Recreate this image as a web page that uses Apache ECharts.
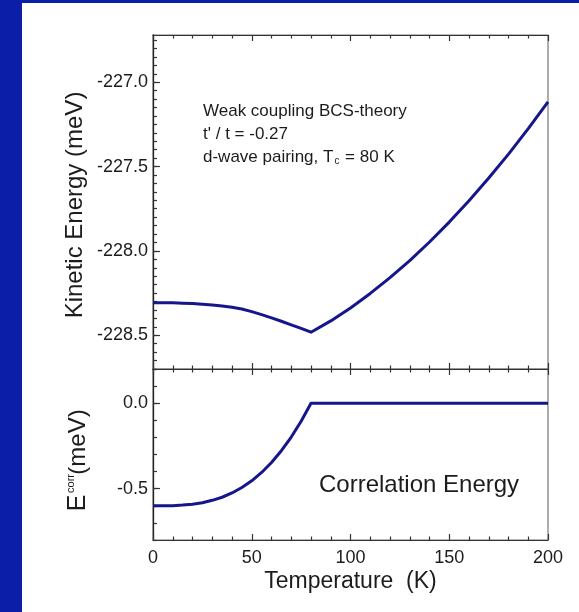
<!DOCTYPE html>
<html>
<head>
<meta charset="utf-8">
<script src="https://cdn.jsdelivr.net/npm/echarts@6/dist/echarts.min.js"></script>
<style>
  html, body { margin: 0; padding: 0; }
  #wrap { position: relative; width: 579px; height: 612px; background: #ffffff; overflow: hidden; }
  #wrap::before { content: ''; position: absolute; left: 0; top: 0; width: 22px; height: 612px; background: #0a1ea8; }
  #wrap::after { content: ''; position: absolute; left: 0; top: 0; width: 579px; height: 3px; background: #0a1ea8; }
  #chart { position: absolute; left: 0; top: 0; width: 579px; height: 612px; }
</style>
</head>
<body>
<div id="wrap"><div id="chart"></div></div>
<script>
// Temperature grid (K)
const temperature = [
  0, 5, 10, 15, 20, 25, 30, 35, 40, 45, 50, 55, 60, 65, 70, 75, 80,
  90, 100, 110, 120, 130, 140, 150, 160, 170, 180, 190, 200
];

// Kinetic energy (meV), weak-coupling BCS, d-wave, Tc = 80 K
const kineticEnergy = [
  -228.307, -228.307, -228.308, -228.310, -228.312, -228.316, -228.321, -228.327,
  -228.334, -228.344, -228.360, -228.378, -228.397, -228.417, -228.438, -228.459,
  -228.482,
  -228.415, -228.338, -228.252, -228.158, -228.057, -227.947, -227.829,
  -227.703, -227.568, -227.426, -227.275, -227.116
];

// Correlation energy (meV)
const correlationEnergy = [
  -0.600, -0.600, -0.599, -0.596, -0.591, -0.582, -0.568, -0.550,
  -0.525, -0.493, -0.454, -0.405, -0.347, -0.278, -0.198, -0.106,
  0.0,
  0.0, 0.0, 0.0, 0.0, 0.0, 0.0, 0.0, 0.0, 0.0, 0.0, 0.0, 0.0
];

// Tick labels
const temperatureTicks = [0, 50, 100, 150, 200];
const kineticTicks = [-227.0, -227.5, -228.0, -228.5];
const correlationTicks = [0.0, -0.5];

const kineticRange = [-228.7, -226.72];
const correlationRange = [-0.8, 0.2];

function stepValues(lo, hi, step) {
  const out = [];
  const n = Math.round((hi - lo) / step);
  for (let k = 0; k <= n; k++) out.push(+(lo + k * step).toFixed(4));
  return out;
}

const FONT = '"Liberation Sans", Arial, Helvetica, sans-serif';
const INK = '#1c1c1c';
const LINE_COLOR = '#15168c';

const chart = echarts.init(document.getElementById('chart'), null, { renderer: 'canvas' });

function xAxisFor(gridIndex, position, withLabels) {
  return {
    type: 'value', gridIndex, position,
    min: 0, max: 200, interval: 50,
    axisLine: { show: true, onZero: false, lineStyle: { color: '#333', width: 1.2 } },
    axisTick: { show: true, inside: true, length: 6, lineStyle: { color: '#333', width: 1.2 } },
    minorTick: { show: true, splitNumber: 5, length: 3.5, lineStyle: { color: '#333', width: 1.2 } },
    splitLine: { show: false },
    axisLabel: withLabels ? {
      show: true, margin: 9, color: INK, fontFamily: FONT, fontSize: 18,
      customValues: temperatureTicks, formatter: v => String(v)
    } : { show: false }
  };
}

function yAxisPair(gridIndex, range, majors, minorStep, digits) {
  const base = {
    type: 'value', gridIndex, position: 'left', offset: 0,
    min: range[0], max: range[1],
    splitLine: { show: false }
  };
  return [
    Object.assign({}, base, {
      axisLine: { show: true, onZero: false, lineStyle: { color: '#222', width: 1.3 } },
      axisTick: { show: true, inside: true, length: 4, customValues: stepValues(range[0], range[1], minorStep),
                  lineStyle: { color: '#333', width: 1.2 } },
      axisLabel: { show: false }
    }),
    Object.assign({}, base, {
      axisLine: { show: false },
      axisTick: { show: true, inside: true, length: 7, customValues: majors,
                  lineStyle: { color: '#333', width: 1.2 } },
      axisLabel: { show: true, margin: 5, color: INK, fontFamily: FONT, fontSize: 18,
                   customValues: majors, formatter: v => v.toFixed(digits) }
    })
  ];
}

const option = {
  backgroundColor: 'transparent',
  animation: false,
  grid: [
    { left: 153, top: 35, width: 395, height: 334, show: true, borderColor: '#777', borderWidth: 1.2, backgroundColor: 'transparent' },
    { left: 153, top: 369, width: 395, height: 171, show: true, borderColor: '#777', borderWidth: 1.2, backgroundColor: 'transparent' }
  ],
  xAxis: [
    xAxisFor(0, 'bottom', false),
    xAxisFor(0, 'top', false),
    xAxisFor(1, 'bottom', true),
    xAxisFor(1, 'top', false)
  ],
  yAxis: [
    ...yAxisPair(0, kineticRange, kineticTicks, 0.05, 1),
    ...yAxisPair(1, correlationRange, correlationTicks, 0.1, 1)
  ],
  series: [
    {
      name: 'Kinetic Energy', type: 'line', xAxisIndex: 0, yAxisIndex: 0,
      data: temperature.map((t, i) => [t, kineticEnergy[i]]),
      showSymbol: false, smooth: false, clip: true,
      lineStyle: { color: LINE_COLOR, width: 3, join: 'round' }
    },
    {
      name: 'Correlation Energy', type: 'line', xAxisIndex: 2, yAxisIndex: 2,
      data: temperature.map((t, i) => [t, correlationEnergy[i]]),
      showSymbol: false, smooth: false, clip: true,
      lineStyle: { color: LINE_COLOR, width: 3, join: 'round' }
    }
  ],
  graphic: [
    { type: 'text', x: 75, y: 205, rotation: Math.PI / 2,
      style: { text: 'Kinetic Energy (meV)', fill: INK, font: '24px ' + FONT, align: 'center', verticalAlign: 'middle' } },
    { type: 'text', x: 78, y: 442, rotation: Math.PI / 2,
      style: { text: '(meV)', fill: INK, font: '24px ' + FONT, align: 'center', verticalAlign: 'middle' } },
    { type: 'text', x: 78, y: 503, rotation: Math.PI / 2,
      style: { text: 'E', fill: INK, font: '25px ' + FONT, align: 'center', verticalAlign: 'middle' } },
    { type: 'text', x: 71, y: 483.5, rotation: Math.PI / 2,
      style: { text: 'corr', fill: INK, font: '11px ' + FONT, align: 'center', verticalAlign: 'middle' } },
    { type: 'text', x: 350.5, y: 582,
      style: { text: 'Temperature  (K)', fill: INK, font: '23px ' + FONT, align: 'center', verticalAlign: 'middle' } },
    { type: 'text', x: 203, y: 111,
      style: { text: 'Weak coupling BCS-theory', fill: INK, font: '17px ' + FONT, align: 'left', verticalAlign: 'middle' } },
    { type: 'text', x: 203, y: 134,
      style: { text: "t' / t = -0.27", fill: INK, font: '17px ' + FONT, align: 'left', verticalAlign: 'middle' } },
    { type: 'text', x: 203, y: 157,
      style: {
        text: '{n|d-wave pairing, T}{s|c}{n| = 80 K}', align: 'left', verticalAlign: 'middle',
        rich: {
          n: { fill: INK, fontFamily: FONT, fontSize: 17 },
          s: { fill: INK, fontFamily: FONT, fontSize: 10, padding: [9, 1, 0, 1] }
        }
      } },
    { type: 'text', x: 319, y: 485,
      style: { text: 'Correlation Energy', fill: INK, font: '24px ' + FONT, align: 'left', verticalAlign: 'middle' } }
  ]
};

chart.setOption(option);
</script>
</body>
</html>
